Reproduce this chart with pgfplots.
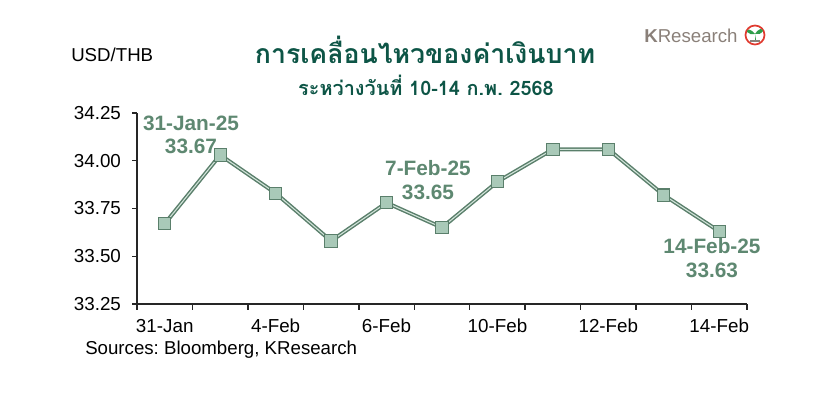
\documentclass[border=0pt]{standalone}
\usepackage{pgfplots}
\pgfplotsset{compat=1.18}
\usepackage{pgfplotstable}
\usepackage{fontspec}
\setmainfont{Liberation Sans}
\newfontfamily\thaifont[Script=Thai]{Loma}
\definecolor{titlegreen}{HTML}{0D5546}
\definecolor{annot}{HTML}{5E8871}
\definecolor{linedk}{HTML}{5A7F6B}
\definecolor{linelt}{HTML}{D2E4DA}
\definecolor{markfill}{HTML}{A9C9B8}
\definecolor{logogray}{HTML}{8A8079}
\definecolor{logored}{HTML}{E03A2F}
\definecolor{logogreen}{HTML}{2E9E4A}
\frenchspacing

% USD/THB close, 31 Jan - 14 Feb 2025
\pgfplotstableread{
idx val
0 33.67
1 34.03
2 33.83
3 33.58
4 33.78
5 33.65
6 33.89
7 34.06
8 34.06
9 33.82
10 33.63
}\fxdata

\begin{document}
\begin{tikzpicture}[x=0.75pt,y=0.75pt]
\useasboundingbox (0,0) rectangle (826,406);
\begin{axis}[at={(102.75pt,76.5pt)},anchor=south west,scale only axis,
  width=457.5pt,height=143.25pt,
  xmin=-0.5,xmax=10.5,ymin=33.25,ymax=34.25,
  axis lines*=left,axis line style={-,black!85,line width=1.1pt},
  tick align=outside,
  xtick={0,2,...,10},xticklabels={31-Jan,4-Feb,6-Feb,10-Feb,12-Feb,14-Feb},
  major x tick style={draw=none},
  minor xtick={-0.5,0.5,...,10.5},
  minor tick length=4.5pt,
  minor x tick style={black!85,line width=1.1pt},
  ytick={33.25,33.5,...,34.25},
  major tick length=3.5pt,
  major y tick style={black!85,line width=1.1pt},
  yticklabel style={xshift=-5pt,/pgf/number format/.cd,fixed,fixed zerofill,precision=2},
  xticklabel style={yshift=-4.5pt},
  /pgf/number format/assume math mode=true,
  tick label style={font=\fontsize{14.1}{16}\selectfont,black},
  clip=false]
\addplot[linedk,line width=3pt] table[x=idx,y=val] {\fxdata};
\addplot[linelt,line width=0.8pt] table[x=idx,y=val] {\fxdata};
\addplot[only marks,mark=square*,mark size=4.6pt,
  mark options={fill=markfill,draw=linedk,line width=0.8pt}] table[x=idx,y=val] {\fxdata};
\end{axis}

% titles and notes
\node[font=\thaifont\bfseries\fontsize{20}{24}\selectfont,text=titlegreen] at (425,356) {การเคลื่อนไหวของค่าเงินบาท};
\node[font=\thaifont\bfseries\fontsize{14.9}{17}\selectfont,text=titlegreen] at (426,321) {ระหว่างวันที่ 10-14 ก.พ. 2568};
\node[anchor=west,font=\fontsize{14}{16}\selectfont,inner sep=0pt] at (71,351) {USD/THB};
\node[anchor=west,font=\fontsize{14}{16}\selectfont,inner sep=0pt] at (85,56) {Sources: Bloomberg, KResearch};

% data callouts
\node[align=center,font=\bfseries\fontsize{15.6}{17.5}\selectfont,text=annot] at (191,271) {31-Jan-25\\33.67};
\node[align=center,font=\bfseries\fontsize{15.6}{17.5}\selectfont,text=annot] at (428,226) {7-Feb-25\\33.65};
\node[align=center,font=\bfseries\fontsize{15.6}{17.5}\selectfont,text=annot] at (712,148) {14-Feb-25\\33.63};

% logo
\node[anchor=west,inner sep=0pt,font=\fontsize{14}{16}\selectfont,text=logogray] at (644,370) {\textbf{K}Research};
\draw[logored,line width=1.3pt] (755,371) circle (9.5);
\fill[logogreen] (755,366) -- (755,372) .. controls (750,378) and (747,377) .. (747,374) .. controls (749,372) and (752,371) .. (755,372) .. controls (758,371) and (761,372) .. (763,375) .. controls (762,378) and (759,378) .. (755,372) -- (756,366) -- cycle;
\draw[logogray,line width=1pt] (750,365) -- (760,365);
\end{tikzpicture}
\end{document}
